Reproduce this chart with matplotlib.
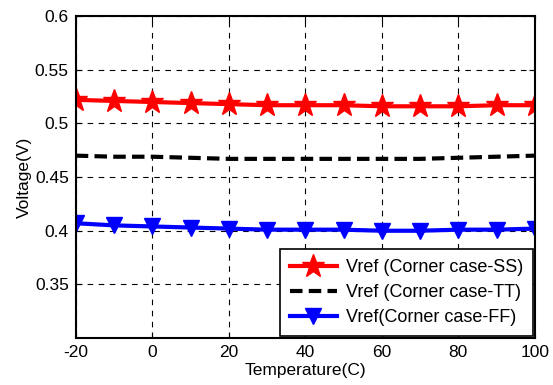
import numpy as np
import matplotlib
matplotlib.use("Agg")
import matplotlib.pyplot as plt

plt.rcParams['font.family'] = ['Liberation Sans', 'DejaVu Sans']
plt.rcParams['axes.unicode_minus'] = False

temp = [-20, -10, 0, 10, 20, 30, 40, 50, 60, 70, 80, 90, 100]
vref_ss = [0.522, 0.521, 0.520, 0.519, 0.518, 0.517, 0.517, 0.517, 0.516, 0.516, 0.516, 0.517, 0.517]
vref_tt = [0.470, 0.469, 0.469, 0.468, 0.467, 0.467, 0.467, 0.467, 0.467, 0.467, 0.468, 0.469, 0.470]
vref_ff = [0.407, 0.405, 0.404, 0.403, 0.402, 0.401, 0.401, 0.401, 0.400, 0.400, 0.401, 0.401, 0.402]

fig = plt.figure(figsize=(5.53, 3.85), dpi=100)
ax = fig.add_axes([0.137, 0.122, 0.830, 0.836])

ax.plot(temp, vref_ss, color='red', lw=3, marker='*', ms=17, label='Vref (Corner case-SS)')
ax.plot(temp, vref_tt, color='black', lw=3, ls='--', dashes=(3, 1.5), label='Vref (Corner case-TT)')
ax.plot(temp, vref_ff, color='blue', lw=3, marker='v', ms=11, label='Vref(Corner case-FF)')

ax.set_xlim(-20, 100)
ax.set_ylim(0.3, 0.6)
ax.set_xticks(np.arange(-20, 101, 20))
ax.set_yticks([0.35, 0.4, 0.45, 0.5, 0.55, 0.6])
ax.set_yticklabels(['0.35', '0.4', '0.45', '0.5', '0.55', '0.6'])
ax.grid(True, color='black', ls=(0, (5, 5)), lw=0.8)
ax.tick_params(direction='in', top=True, right=True, labelsize=12.5, length=4, pad=5)
for s in ax.spines.values():
    s.set_linewidth(1.5)

ax.set_xlabel('Temperature(C)', fontsize=12.5, labelpad=2)
ax.set_ylabel('Voltage(V)', fontsize=12.5, labelpad=2)

leg = ax.legend(loc='lower right', fontsize=13, fancybox=False, framealpha=1,
                edgecolor='black', borderaxespad=0.1, handlelength=2.6,
                labelspacing=0.45, borderpad=0.55, handletextpad=0.5)
leg.get_frame().set_linewidth(1.2)

fig.savefig('out.png', dpi=100)
